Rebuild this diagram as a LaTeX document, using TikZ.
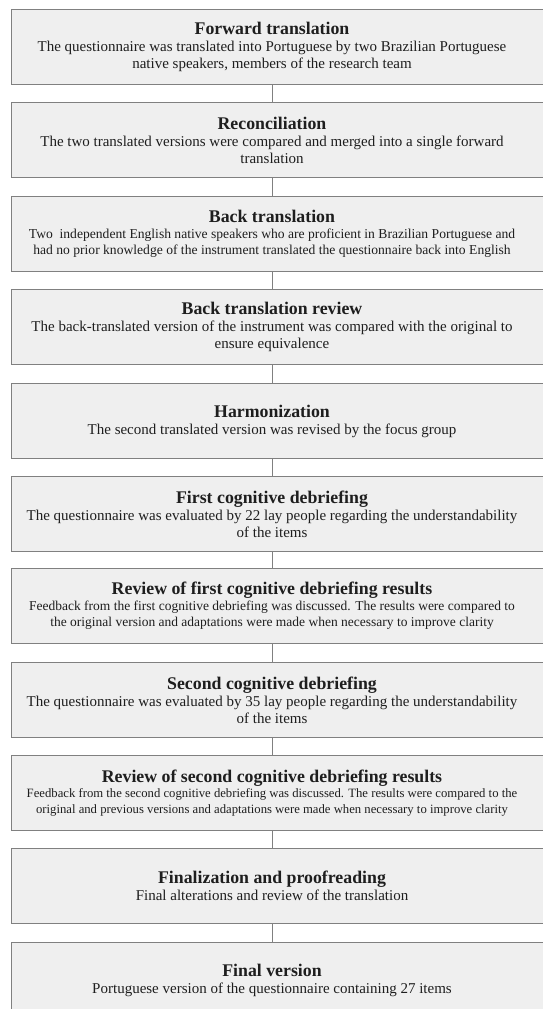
\documentclass[tikz,border=0pt]{standalone}
\usepackage{fontspec}
\setmainfont{Liberation Serif}
\usetikzlibrary{backgrounds}
\definecolor{boxfill}{HTML}{EFEFEF}
\definecolor{boxline}{HTML}{808080}
\definecolor{txt}{HTML}{1E1E1E}
\newcommand{\sttitle}[1]{{\fontsize{17.8}{20}\selectfont\bfseries #1}}
\tikzset{
  stepbox/.style={minimum width=520pt, minimum height=74pt, inner sep=0pt,
    align=center, text=txt, font=\fontsize{15}{17}\selectfont},
  frame/.style={draw=boxline, fill=boxfill, line width=1.3pt},
  link/.style={draw=boxline, line width=0.9pt}
}
\begin{document}
\begin{tikzpicture}[x=1pt, y=1pt]
    \useasboundingbox (0,0) rectangle (543,-1009);
    \node[stepbox] (fwd) at (272,-47) {\sttitle{Forward translation}\\
        The questionnaire was translated into Portuguese by two Brazilian Portuguese\\
        native speakers, members of the research team};
    \node[stepbox] (rec) at (272,-140) {\sttitle{Reconciliation}\\
        The two translated versions were compared and merged into a single forward\\
        translation};
    \node[stepbox, font=\fontsize{13.6}{16}\selectfont] (back) at (272,-234) {\sttitle{Back translation}\\
        Two~~independent English native speakers who are proficient in Brazilian Portuguese and\\
        had no prior knowledge of the instrument translated the questionnaire back into English};
    \node[stepbox] (brev) at (272,-327) {\sttitle{Back translation review}\\
        The back-translated version of the instrument was compared with the original to\\
        ensure equivalence};
    \node[stepbox] (harm) at (272,-421) {\sttitle{Harmonization}\\
        The second translated version was revised by the focus group};
    \node[stepbox] (cog1) at (272,-514) {\sttitle{First cognitive debriefing}\\
        The questionnaire was evaluated by 22 lay people regarding the understandability\\
        of the items};
    \node[stepbox, font=\fontsize{13.5}{16}\selectfont] (rev1) at (272,-606) {\sttitle{Review of first cognitive debriefing results}\\
        Feedback from the first cognitive debriefing was discussed. The results were compared to\\
        the original version and adaptations were made when necessary to improve clarity};
    \node[stepbox] (cog2) at (272,-700) {\sttitle{Second cognitive debriefing}\\
        The questionnaire was evaluated by 35 lay people regarding the understandability\\
        of the items};
    \node[stepbox, font=\fontsize{12.7}{15.5}\selectfont] (rev2) at (272,-793) {\sttitle{Review of second cognitive debriefing results}\\
        Feedback from the second cognitive debriefing was discussed. The results were compared to the\\
        original and previous versions and adaptations were made when necessary to improve clarity};
    \node[stepbox] (fin) at (272,-886) {\sttitle{Finalization and proofreading}\\
        Final alterations and review of the translation};
    \node[stepbox] (last) at (272,-980) {\sttitle{Final version}\\
        Portuguese version of the questionnaire containing 27 items};
    % frames behind the texts, open to the right
    \begin{scope}[on background layer]
    \foreach \n in {fwd,rec,back,brev,harm,cog1,rev1,cog2,rev2,fin,last}
        \draw[frame] (\n.north west) rectangle ([xshift=30pt]\n.south east);
    \end{scope}
    \foreach \a/\b in {fwd/rec,rec/back,back/brev,brev/harm,harm/cog1,cog1/rev1,rev1/cog2,cog2/rev2,rev2/fin,fin/last}
        \draw[link] (\a) -- (\b);
\end{tikzpicture}
\end{document}
